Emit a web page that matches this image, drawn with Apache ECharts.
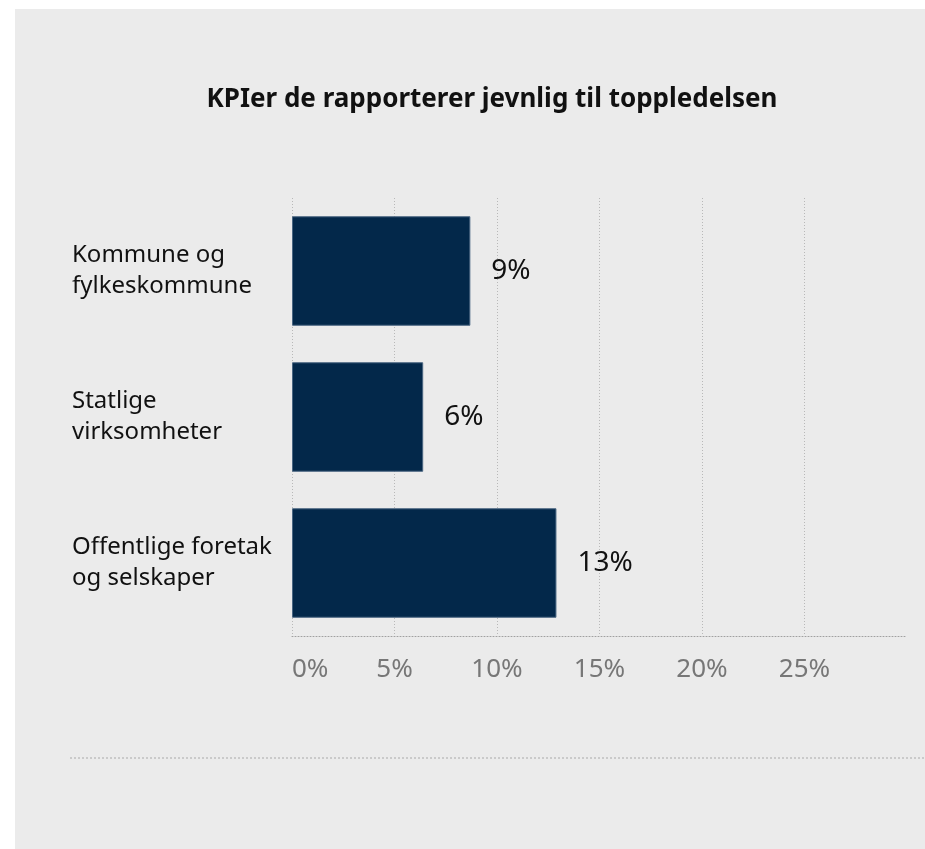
<!DOCTYPE html>
<html>
<head>
<meta charset="utf-8">
<script src="https://cdn.jsdelivr.net/npm/echarts@6/dist/echarts.min.js"></script>
<style>
  html, body { margin: 0; padding: 0; background: #ffffff; }
  #chart { position: absolute; left: 15px; top: 9px; width: 910px; height: 840px; background: #ebebeb; }
</style>
</head>
<body>
<div id="chart"></div>
<script>
// data
const categories = ['Kommune og\nfylkeskommune', 'Statlige\nvirksomheter', 'Offentlige foretak\nog selskaper'];
const shares = [8.7, 6.4, 12.9];
const titleText = 'KPIer de rapporterer jevnlig til toppledelsen';

const chart = echarts.init(document.getElementById('chart'));

const option = {
    animation: false,
    textStyle: { fontFamily: 'Noto Sans' },
    title: {
        text: titleText,
        left: 472,
        top: 73,
        textAlign: 'center',
        textStyle: { fontSize: 26, fontWeight: 'bold', color: '#111111', fontFamily: 'Noto Sans' }
    },
    grid: { left: 277, right: 18, top: 189, bottom: 213, containLabel: false },
    xAxis: {
        type: 'value',
        min: 0,
        max: 30,
        interval: 5,
        axisLine: { show: true, lineStyle: { color: '#a0a0a0', type: [1, 2], width: 1 } },
        axisTick: { show: false },
        splitLine: { show: true, showMaxLine: false, lineStyle: { color: '#b8b8b8', type: [1, 2], width: 1 } },
        axisLabel: {
            show: true,
            showMaxLabel: false,
            alignMinLabel: 'left',
            margin: 21,
            fontSize: 26,
            color: '#777777',
            formatter: '{value}%'
        }
    },
    yAxis: {
        type: 'category',
        data: categories,
        inverse: true,
        axisLine: { show: false },
        axisTick: { show: false },
        axisLabel: {
            align: 'left',
            margin: 220,
            fontSize: 24,
            lineHeight: 31,
            color: '#111111'
        }
    },
    series: [
        {
            type: 'bar',
            data: shares,
            barCategoryGap: '25%',
            itemStyle: { color: '#03284a', borderColor: '#4a6682', borderWidth: 1 },
            label: {
                show: true,
                position: 'right',
                distance: 21,
                fontSize: 28,
                color: '#111111',
                formatter: (p) => Math.round(p.value) + '%'
            }
        }
    ],
    graphic: [
        {
            type: 'line',
            shape: { x1: 55, y1: 749, x2: 910, y2: 749 },
            style: { stroke: '#aaaaaa', lineWidth: 1, lineDash: [2, 2] }
        }
    ]
};

chart.setOption(option);
</script>
</body>
</html>
